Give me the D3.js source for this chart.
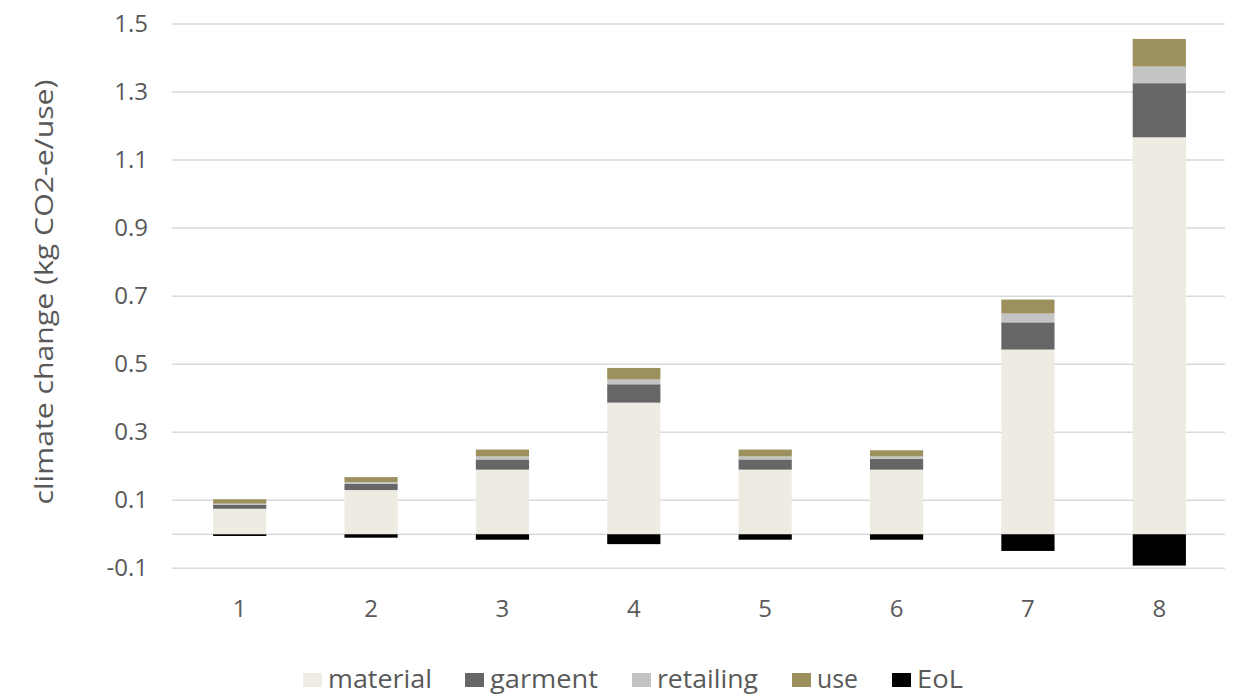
<!DOCTYPE html>
<html>
<head>
<meta charset="utf-8">
<script src="https://cdn.jsdelivr.net/npm/d3@7"></script>
<style>
  html, body { margin: 0; padding: 0; background: #ffffff; }
  svg { display: block; }
</style>
</head>
<body>
<svg id="chart" width="1235" height="697"></svg>
<script>
const categories = ["1", "2", "3", "4", "5", "6", "7", "8"];
const seriesNames = ["material", "garment", "retailing", "use", "EoL"];
const material  = [0.075, 0.130, 0.190, 0.387, 0.190, 0.190, 0.543, 1.167];
const garment   = [0.012, 0.018, 0.030, 0.054, 0.030, 0.032, 0.080, 0.159];
const retailing = [0.003, 0.005, 0.009, 0.014, 0.009, 0.007, 0.026, 0.049];
const use       = [0.013, 0.015, 0.020, 0.034, 0.020, 0.018, 0.041, 0.081];
const eol       = [-0.005, -0.010, -0.016, -0.029, -0.016, -0.016, -0.049, -0.092];
const yTicks = [-0.1, 0.1, 0.3, 0.5, 0.7, 0.9, 1.1, 1.3, 1.5];
const colors = {
  material: "#EEEBE3",
  garment: "#666666",
  retailing: "#C4C4C4",
  use: "#9B905E",
  EoL: "#000000"
};

const seriesData = { material, garment, retailing, use, EoL: eol };
const rows = categories.map((c, i) => {
  const r = { cat: c };
  seriesNames.forEach(s => r[s] = seriesData[s][i]);
  return r;
});

const svg = d3.select("#chart");
const textColor = "#595959";
const fontFam = "'Open Sans', 'Liberation Sans', sans-serif";

const x = d3.scaleBand().domain(categories).range([174, 1225]).paddingInner(0.595).paddingOuter(0.2975);
const y = d3.scaleLinear().domain([-0.1, 1.5]).range([568.3, 24]);

// gridlines
const gridVals = yTicks.concat([0]);
svg.append("g").selectAll("line").data(gridVals).join("line")
  .attr("x1", 172).attr("x2", 1225)
  .attr("y1", d => y(d)).attr("y2", d => y(d))
  .attr("stroke", "#D9D9D9").attr("stroke-width", 1.5);

// y axis labels
const yAxis = d3.axisLeft(y).tickValues(yTicks).tickSize(0).tickPadding(0)
  .tickFormat(d => d3.format(".1f")(d).replace("−", "-"));
const ya = svg.append("g").attr("transform", "translate(148,0)").call(yAxis);
ya.select(".domain").remove();
ya.selectAll("text").attr("fill", textColor).style("font-family", fontFam).style("font-size", "24px");

// x axis labels
const xAxis = d3.axisBottom(x).tickSize(0).tickPadding(0);
const xa = svg.append("g").attr("transform", "translate(0,600)").call(xAxis);
xa.select(".domain").remove();
xa.selectAll("text").attr("fill", textColor).style("font-family", fontFam).style("font-size", "24px");

// stacked bars
const posKeys = ["material", "garment", "retailing", "use"];
const stack = d3.stack().keys(posKeys)(rows);
const gBars = svg.append("g");
stack.forEach(layer => {
  gBars.append("g").attr("fill", colors[layer.key])
    .selectAll("rect").data(layer).join("rect")
    .attr("x", d => x(d.data.cat))
    .attr("width", x.bandwidth())
    .attr("y", d => y(d[1]))
    .attr("height", d => y(d[0]) - y(d[1]));
});
gBars.append("g").attr("fill", colors.EoL)
  .selectAll("rect").data(rows).join("rect")
  .attr("x", d => x(d.cat))
  .attr("width", x.bandwidth())
  .attr("y", y(0))
  .attr("height", d => y(d.EoL) - y(0));

// y axis title
svg.append("text")
  .attr("transform", "translate(53,292) rotate(-90)")
  .attr("text-anchor", "middle")
  .attr("fill", textColor)
  .attr("textLength", 425)
  .attr("lengthAdjust", "spacingAndGlyphs")
  .style("font-family", fontFam)
  .style("font-size", "26px")
  .text("climate change (kg CO2-e/use)");

// legend
const legendSq = [303, 465, 632, 792, 892];
const legendTx = [328, 490, 657, 817, 917];
const legendLen = [104, 108, 101, 41, 46];
const lg = svg.append("g");
seriesNames.forEach((s, i) => {
  lg.append("rect").attr("x", legendSq[i]).attr("y", 673).attr("width", 19).attr("height", 14)
    .attr("fill", colors[s]);
  lg.append("text").attr("x", legendTx[i]).attr("y", 688)
    .attr("fill", textColor)
    .attr("textLength", legendLen[i])
    .attr("lengthAdjust", "spacingAndGlyphs")
    .style("font-family", fontFam).style("font-size", "25px")
    .text(s);
});
</script>
</body>
</html>
